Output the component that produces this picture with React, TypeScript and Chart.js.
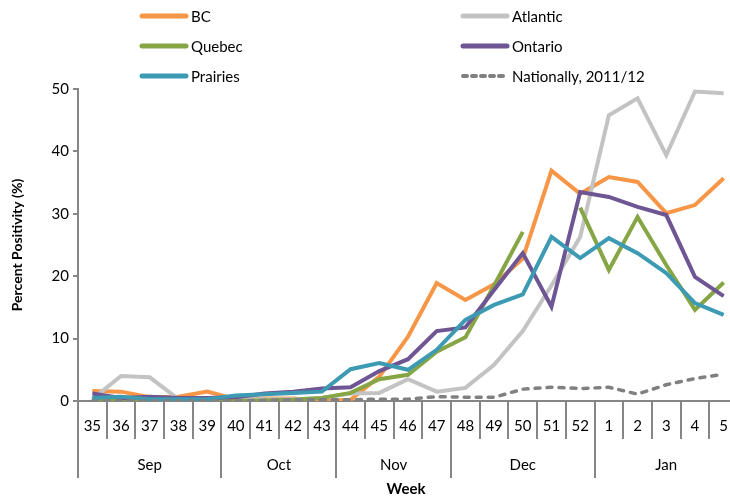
import React, { useEffect, useRef } from "react";
import { Chart, registerables } from "chart.js";

Chart.register(...registerables);

const weeks = ["35", "36", "37", "38", "39", "40", "41", "42", "43", "44", "45", "46", "47", "48", "49", "50", "51", "52", "1", "2", "3", "4", "5"];
const months = ["Sep", "Oct", "Nov", "Dec", "Jan"];
const monthWeekCounts = [5, 4, 4, 5, 5];
const yTicks = [0, 10, 20, 30, 40, 50];

const bc = [1.6, 1.5, 0.6, 0.7, 1.5, 0.3, 0.4, 0.4, 0.0, 0.2, 3.9, 10.3, 18.9, 16.2, 18.7, 22.8, 36.9, 33.2, 35.9, 35.1, 30.1, 31.4, 35.7];
const atlantic = [0.3, 4.0, 3.8, 0.3, 0.3, 0.3, 0.3, 0.3, 0.5, 1.2, 1.3, 3.5, 1.5, 2.1, 5.8, 11.2, 18.5, 26.3, 45.8, 48.5, 39.4, 49.6, 49.3];
const quebec = [0.2, 0.1, 0.0, 0.0, 0.0, 0.0, 0.1, 0.2, 0.5, 1.3, 3.5, 4.2, 7.9, 10.2, 18.5, 27.1, null, 31.0, 21.0, 29.5, 21.8, 14.6, 19.0];
const ontario = [1.2, 0.5, 0.7, 0.5, 0.5, 0.6, 1.2, 1.5, 2.0, 2.2, 4.8, 6.7, 11.2, 11.8, 17.8, 23.7, 15.1, 33.5, 32.7, 31.1, 29.8, 19.9, 16.8];
const prairies = [0.5, 0.7, 0.3, 0.3, 0.3, 0.9, 1.1, 1.3, 1.5, 5.1, 6.1, 5.0, 8.2, 13.0, 15.4, 17.1, 26.3, 22.9, 26.1, 23.7, 20.5, 15.7, 13.8];
const nationally = [0.0, 0.0, 0.0, 0.0, 0.0, 0.0, 0.1, 0.2, 0.2, 0.2, 0.3, 0.3, 0.7, 0.6, 0.6, 1.9, 2.2, 2.0, 2.2, 1.1, 2.6, 3.6, 4.3];

const FONT = "Lato, 'Open Sans', sans-serif";
const AXIS = "#868686";

const legendPlugin = {
  id: "gridLegend",
  afterDraw(chart: any) {
    const ctx = chart.ctx;
    const colX = [140, 461];
    const rowY = [16, 46, 76];
    ctx.save();
    chart.data.datasets.forEach((ds: any, i: number) => {
      const x = colX[i % 2];
      const y = rowY[Math.floor(i / 2)];
      ctx.beginPath();
      ctx.strokeStyle = ds.borderColor;
      ctx.lineWidth = ds.borderDash ? 4 : 5;
      ctx.lineCap = "round";
      ctx.setLineDash(ds.borderDash ? [4, 5] : []);
      ctx.moveTo(x + 2, y);
      ctx.lineTo(x + 46, y);
      ctx.stroke();
      ctx.setLineDash([]);
      ctx.fillStyle = "#000";
      ctx.font = `15px ${FONT}`;
      ctx.textAlign = "left";
      ctx.textBaseline = "middle";
      ctx.fillText(ds.label, x + 51, y + 1);
    });
    ctx.restore();
  },
};

const xAxisPlugin = {
  id: "groupedXAxis",
  afterDraw(chart: any) {
    const ctx = chart.ctx;
    const xs = chart.scales.x;
    const y0 = chart.chartArea.bottom;
    const half = (xs.getPixelForValue(1) - xs.getPixelForValue(0)) / 2;
    ctx.save();
    ctx.fillStyle = "#000";
    ctx.font = `15px ${FONT}`;
    ctx.textAlign = "center";
    ctx.textBaseline = "middle";
    weeks.forEach((w, i) => {
      ctx.fillText(w, xs.getPixelForValue(i), y0 + 25);
    });
    const monthStarts: number[] = [];
    let acc = 0;
    monthWeekCounts.forEach((c) => {
      monthStarts.push(acc);
      acc += c;
    });
    monthStarts.push(acc);
    ctx.strokeStyle = AXIS;
    ctx.lineWidth = 2;
    for (let i = 0; i <= weeks.length; i++) {
      const bx = Math.round(xs.getPixelForValue(i) - half);
      const long = monthStarts.includes(i);
      ctx.beginPath();
      ctx.moveTo(bx, y0);
      ctx.lineTo(bx, y0 + (long ? 77 : 38));
      ctx.stroke();
    }
    months.forEach((m, k) => {
      const a = xs.getPixelForValue(monthStarts[k]) - half;
      const b = xs.getPixelForValue(monthStarts[k + 1] - 1) + half;
      ctx.fillText(m, (a + b) / 2, y0 + 64);
    });
    ctx.font = `bold 15px ${FONT}`;
    const ca = chart.chartArea;
    ctx.fillText("Week", (ca.left + 730) / 2 + 2, y0 + 88);
    ctx.restore();
  },
};

export default function App() {
  const ref = useRef<HTMLCanvasElement>(null);
  useEffect(() => {
    document.body.style.overflow = "hidden";
    const common = { pointRadius: 0, borderWidth: 4, tension: 0, spanGaps: false, fill: false };
    const chart = new Chart(ref.current!, {
      type: "line",
      data: {
        labels: weeks,
        datasets: [
          { ...common, label: "BC", data: bc, borderColor: "#F79646", order: 6 },
          { ...common, label: "Atlantic", data: atlantic, borderColor: "#C3C3C3", order: 5 },
          { ...common, label: "Quebec", data: quebec, borderColor: "#86A544", order: 4 },
          { ...common, label: "Ontario", data: ontario, borderColor: "#6E5593", order: 3 },
          { ...common, label: "Prairies", data: prairies, borderColor: "#3D9AB3", order: 2 },
          { ...common, label: "Nationally, 2011/12", data: nationally, borderColor: "#808080", borderWidth: 3.5, borderDash: [5, 7], borderCapStyle: "round", order: 1 },
        ] as any,
      },
      options: {
        responsive: false,
        animation: false,
        devicePixelRatio: 1,
        layout: { padding: { top: 89, right: 0, left: 0, bottom: 0 } },
        plugins: { legend: { display: false }, tooltip: { enabled: false }, title: { display: false } },
        scales: {
          x: {
            type: "category",
            offset: true,
            ticks: { display: false },
            grid: { display: false },
            border: { display: true, color: AXIS, width: 2 },
            afterFit: (s: any) => {
              s.height = 98;
            },
          },
          y: {
            min: 0,
            max: 50,
            afterBuildTicks: (s: any) => {
              s.ticks = yTicks.map((v) => ({ value: v }));
            },
            ticks: { color: "#000", font: { size: 15, family: FONT }, padding: 4 },
            grid: { display: true, drawOnChartArea: false, drawTicks: true, tickLength: 5, color: AXIS, lineWidth: 2 },
            border: { display: true, color: AXIS, width: 2 },
            title: { display: true, text: "Percent Positivity (%)", color: "#000", font: { size: 14, weight: "bold", family: FONT }, padding: { top: 9, bottom: 0 } },
            afterFit: (s: any) => {
              s.width = 78;
            },
          },
        },
      } as any,
      plugins: [legendPlugin, xAxisPlugin],
    });
    return () => chart.destroy();
  }, []);
  return (
    <div style={{ position: "absolute", left: 0, top: 0, width: 738, height: 499 }}>
      <canvas ref={ref} width={738} height={499} style={{ width: 738, height: 499 }} />
    </div>
  );
}
